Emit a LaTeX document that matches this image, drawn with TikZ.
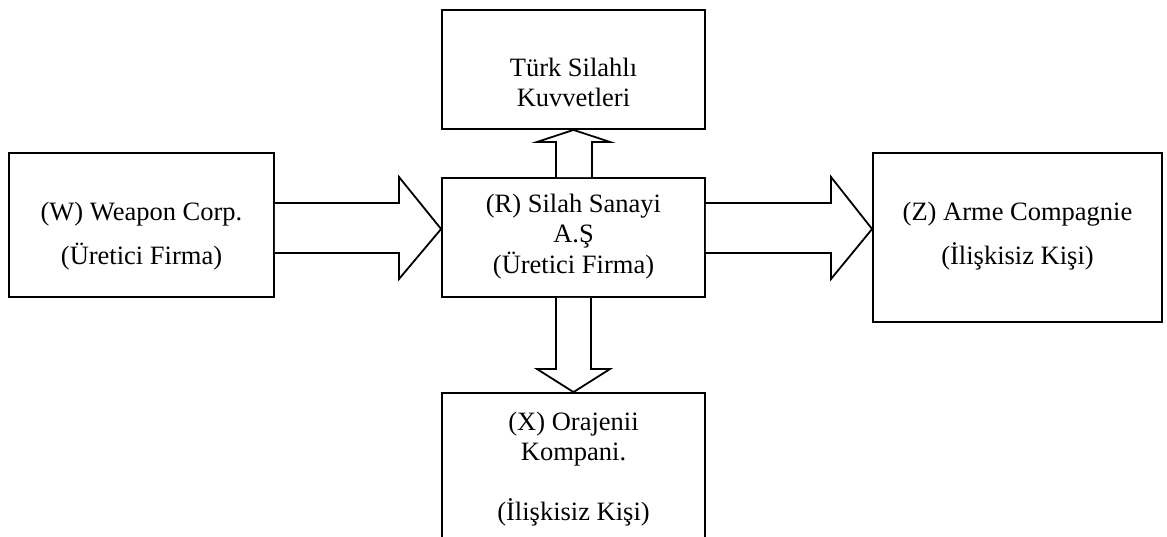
\documentclass[tikz,border=0pt]{standalone}
\usepackage{fontspec}
\setmainfont{Liberation Serif}
\usetikzlibrary{calc}
\tikzset{
  box/.style={draw, line width=1.8pt, rectangle, inner sep=0pt},
  txt/.style={anchor=base, inner sep=0pt, font=\fontsize{26.5}{30.5}\selectfont},
  blockarrow/.style={draw, line width=1.8pt, fill=white, line join=miter}
}
\begin{document}
\begin{tikzpicture}[x=1pt, y=-1pt]
  \useasboundingbox (0,0) rectangle (1167,536);

  % boxes
  \node[box, minimum width=263pt, minimum height=119pt] (t) at (573.5,69.5) {};
  \node[box, minimum width=265pt, minimum height=144pt] (w) at (141.5,225) {};
  \node[box, minimum width=263pt, minimum height=119pt] (r) at (573.5,237.5) {};
  \node[box, minimum width=289pt, minimum height=169pt] (z) at (1017.5,237.5) {};
  \node[box, minimum width=263pt, minimum height=152pt] (x) at (573.5,469) {};

  % box texts
  \node[txt] (t1) at (573.5,76.5) {Türk Silahlı};
  \node[txt] (t2) at (573.5,106.5) {Kuvvetleri};

  \node[txt] (w1) at (141.5,220) {(W) Weapon Corp.};
  \node[txt] (w2) at (141.5,264) {(Üretici Firma)};

  \node[txt] (r1) at (573.5,212) {(R) Silah Sanayi};
  \node[txt] (r2) at (573.5,242.5) {A.Ş};
  \node[txt] (r3) at (573.5,273) {(Üretici Firma)};

  \node[txt] (z1) at (1017.5,220) {(Z) Arme Compagnie};
  \node[txt] (z2) at (1017.5,264) {(İlişkisiz Kişi)};

  \node[txt] (x1) at (573.5,430) {(X) Orajenii};
  \node[txt] (x2) at (573.5,460) {Kompani.};
  \node[txt] (x3) at (573.5,520) {(İlişkisiz Kişi)};

  % block arrows between the boxes
  \draw[blockarrow] (w.east |- 0,203) -- (399,203) -- (399,177) -- (r.west |- 0,229)
    -- (399,279) -- (399,253) -- (w.east |- 0,253);
  \draw[blockarrow] (r.east |- 0,203) -- (831,203) -- (831,177) -- (z.west |- 0,229)
    -- (831,279) -- (831,253) -- (r.east |- 0,253);
  \draw[blockarrow] (556,0 |- r.north) -- (556,142) -- (537,142) -- (t.south)
    -- (610,142) -- (592,142) -- (592,0 |- r.north);
  \draw[blockarrow] (556,0 |- r.south) -- (556,369) -- (537,369) -- (x.north)
    -- (610,369) -- (591,369) -- (591,0 |- r.south);
\end{tikzpicture}
\end{document}
